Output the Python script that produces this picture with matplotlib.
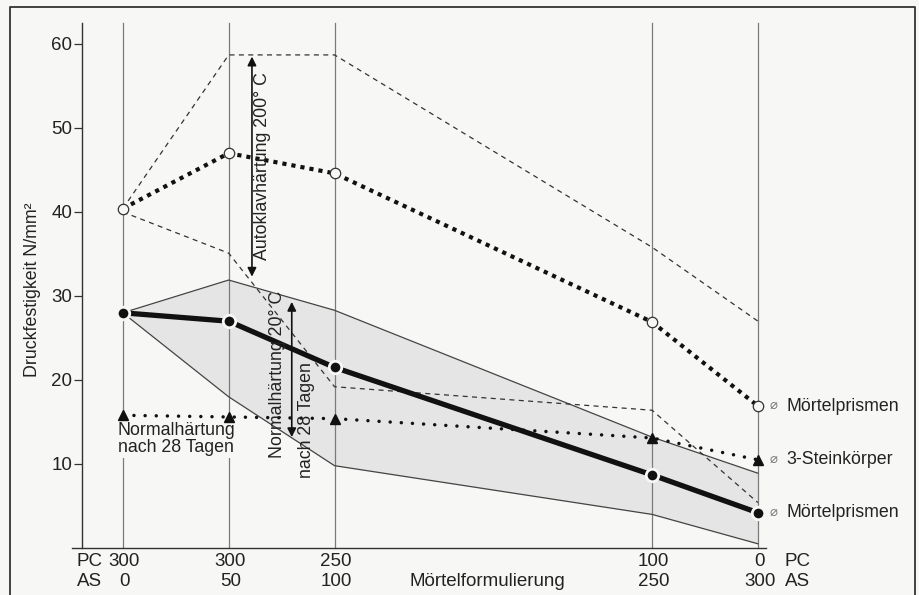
import matplotlib
matplotlib.use("Agg")
import matplotlib.pyplot as plt

plt.rcParams['font.family'] = ['Liberation Sans', 'DejaVu Sans']

# ---- data ----
as_vals = [0, 50, 100, 250, 300]
pc_vals = [300, 300, 250, 100, 0]

# Autoklavhärtung 200 °C (Mörtelprismen, mean + range)
auto_mean = [40.4, 47.0, 44.6, 26.9, 16.9]
auto_upper = [40.4, 58.7, 58.7, 35.8, 27.0]
auto_lower = [40.0, 35.1, 19.2, 16.4, 5.4]

# Normalhärtung 20 °C, 28 Tage (Mörtelprismen, mean + range)
norm_mean = [28.0, 27.0, 21.5, 8.7, 4.2]
norm_upper = [28.0, 31.9, 28.3, 13.2, 8.9]
norm_lower = [28.0, 18.0, 9.8, 4.0, 0.5]

# 3-Steinkörper, Normalhärtung
stein_mean = [15.8, 15.6, 15.4, 13.1, 10.5]

yticks = [10, 20, 30, 40, 50, 60]
legend_labels = ["Mörtelprismen", "3-Steinkörper", "Mörtelprismen"]

BG = '#f7f7f5'
W, H = 920, 595
fig = plt.figure(figsize=(W / 100, H / 100), dpi=100, facecolor=BG)

# axes in pixel geometry
ax_l, ax_r, ax_b, ax_t = 72, 766, 548, 23
ax = fig.add_axes([ax_l / W, 1 - ax_b / H, (ax_r - ax_l) / W, (ax_b - ax_t) / H])
ax.set_facecolor(BG)
ax.set_xlim(-24, 303.8)
ax.set_ylim(0, 62.5)

for s in ['top', 'right']:
    ax.spines[s].set_visible(False)
ax.spines['left'].set_position(('data', -19.4))
for s in ['left', 'bottom']:
    ax.spines[s].set_color('#333333')
    ax.spines[s].set_linewidth(1.0)

ax.set_yticks(yticks)
ax.set_yticklabels([str(v) for v in yticks], fontsize=13.5, color='#222222')
ax.tick_params(axis='y', direction='out', length=6, width=0.9, color='#333333', pad=1)
ax.set_xticks([])

# vertical grid lines
for x in as_vals:
    ax.plot([x, x], [0, 62.5], color='#7a7a7a', lw=0.9, zorder=1.5, clip_on=False)

# shaded band (Normalhärtung range)
ax.fill_between(as_vals, norm_lower, norm_upper, color='#e5e5e5', zorder=1, lw=0)
ax.plot(as_vals, norm_upper, color='#444444', lw=0.9, zorder=2)
ax.plot(as_vals, norm_lower, color='#444444', lw=0.9, zorder=2)

# Autoklav range (dashed)
ax.plot(as_vals, auto_upper, color='#333333', lw=0.9, ls=(0, (4, 3.5)), zorder=2)
ax.plot(as_vals, auto_lower, color='#333333', lw=0.9, ls=(0, (4, 3.5)), zorder=2)

# Autoklav mean (heavy square dots)
ax.plot(as_vals, auto_mean, color='#111111', lw=3.0, ls=(0, (1, 1.2)),
        dash_capstyle='butt', zorder=3)
ax.plot(as_vals, auto_mean, ls='none', marker='o', ms=7.5, mfc=BG,
        mec='#333333', mew=0.9, zorder=4)

# 3-Steinkörper (round dots)
ax.plot(as_vals, stein_mean, color='#111111', lw=2.5, ls=(0, (0.01, 3.2)),
        dash_capstyle='round', zorder=3)
ax.plot(as_vals, stein_mean, ls='none', marker='^', ms=6.5, color='#111111', zorder=4)

# Normalhärtung mean (thick solid)
ax.plot(as_vals, norm_mean, color='#111111', lw=3.8, solid_capstyle='butt', zorder=3)
ax.plot(as_vals, norm_mean, ls='none', marker='o', ms=9, mfc='#111111',
        mec=BG, mew=2.0, zorder=4)

# right-side labels
for yv, lab in zip([auto_mean[-1], stein_mean[-1], norm_mean[-1]], legend_labels):
    ax.text(307.5, yv, '⌀', fontsize=9.5, color='#777777', ha='center', va='center',
            clip_on=False)
    ax.text(313.5, yv, lab, fontsize=12.8, color='#222222', ha='left', va='center',
            clip_on=False)

# annotations
ax.annotate('', xy=(61, 58.5), xytext=(61, 32.3),
            arrowprops=dict(arrowstyle='<|-|>', mutation_scale=13, lw=1.2,
                            color='#111111', shrinkA=0, shrinkB=0), zorder=5)
ax.text(65.8, 45.5, 'Autoklavhärtung 200° C', rotation=90, fontsize=12.8,
        ha='center', va='center', color='#222222', zorder=5)

ax.annotate('', xy=(79.8, 29.3), xytext=(79.8, 13.2),
            arrowprops=dict(arrowstyle='<|-|>', mutation_scale=13, lw=1.2,
                            color='#111111', shrinkA=0, shrinkB=0), zorder=5)
ax.text(73.2, 20.7, 'Normalhärtung 20° C', rotation=90, fontsize=12.8,
        ha='center', va='center', color='#222222', zorder=5)
ax.text(86.9, 15.2, 'nach 28 Tagen', rotation=90, fontsize=12.8,
        ha='center', va='center', color='#222222', zorder=5)

ax.text(-2.4, 13.0, 'Normalhärtung\nnach 28 Tagen', fontsize=12.8, ha='left',
        va='center', color='#222222', linespacing=1.02, zorder=3.5,
        bbox=dict(boxstyle='square,pad=0.1', fc=BG, ec='none'))

# x tick labels (two rows)
trans = ax.get_xaxis_transform()
y_pc = -(562 - ax_b) / (ax_b - ax_t)
y_as = -(581 - ax_b) / (ax_b - ax_t)
for a, p in zip(as_vals, pc_vals):
    ax.text(a + 0.8, y_pc, str(p), transform=trans, fontsize=13.5, ha='center',
            va='center', color='#222222', clip_on=False)
    ax.text(a + 0.8, y_as, str(a), transform=trans, fontsize=13.5, ha='center',
            va='center', color='#222222', clip_on=False)
for xx in (-21.7, 312.7):
    ax.text(xx, y_pc, 'PC', transform=trans, fontsize=13.5, ha='left', va='center',
            color='#222222', clip_on=False)
    ax.text(xx, y_as, 'AS', transform=trans, fontsize=13.5, ha='left', va='center',
            color='#222222', clip_on=False)
ax.text(172, y_as, 'Mörtelformulierung', transform=trans, fontsize=13.5, ha='center',
        va='center', color='#222222', clip_on=False)

# y label
fig.text(33 / W, 1 - 290 / H, 'Druckfestigkeit N/mm²', rotation=90, fontsize=12.8,
         ha='center', va='center', color='#222222')

# outer frame (left, top, right)
fig.add_artist(plt.Line2D([10 / W, 10 / W, 915 / W, 915 / W],
                          [0, 1 - 7 / H, 1 - 7 / H, 0], color='#333333', lw=1.3,
                          transform=fig.transFigure))

fig.savefig('out.png', dpi=100, facecolor=BG)
